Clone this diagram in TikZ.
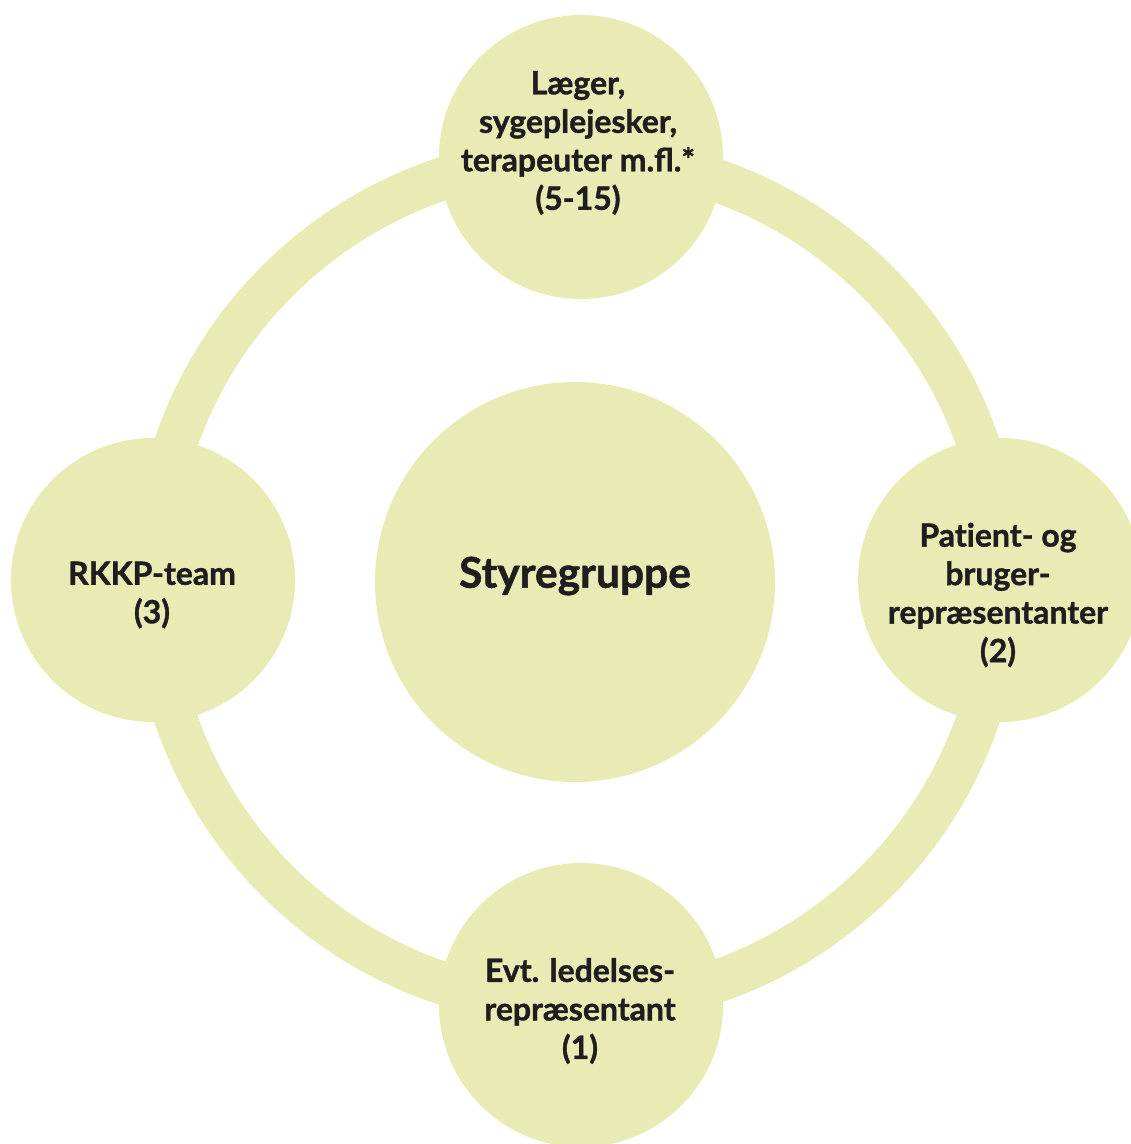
\documentclass[tikz,border=0pt]{standalone}
\usepackage{fontspec}
\setmainfont{Lato}[BoldFeatures={FakeBold=1.2}]
\definecolor{fillc}{HTML}{E9EBB5}
\definecolor{txt}{HTML}{1E1E1E}
\begin{document}
\begin{tikzpicture}[x=1pt,y=-1pt,
  bubble/.style={circle,fill=fillc,inner sep=0pt,minimum size=284pt},
  lbl/.style={align=center,text=txt,font=\fontsize{32}{38.5}\selectfont\bfseries},
  ring/.style={draw=fillc,line width=43pt}]
\useasboundingbox (0,0) rectangle (1131,1144);
\coordinate (c) at (577,581);
\draw[ring] (c) circle[radius=424pt];
\node[bubble,minimum size=400pt] (mid) at (575,582) {};
\node[bubble] (top) at (581,157) {};
\node[bubble] (bot) at (581,1005) {};
\node[bubble] (left) at (153,580) {};
\node[bubble] (right) at (1000,580) {};
\node[lbl,font=\fontsize{42.5}{48}\selectfont\bfseries] (tmid) at (575,576) {Styregruppe};
\node[lbl] (ttop) at (578,143) {Læger,\\sygeplejesker,\\terapeuter m.fl.*\\(5-15)};
\node[lbl] (tright) at (998,595) {Pat\kern0pt ient- og\\bruger-\\repræsentanter\\(2)};
\node[lbl] (tleft) at (152,595) {RKKP-team\\(3)};
\node[lbl] (tbot) at (580,1011) {Evt. ledelses-\\repræsentant\\(1)};
\end{tikzpicture}
\end{document}
